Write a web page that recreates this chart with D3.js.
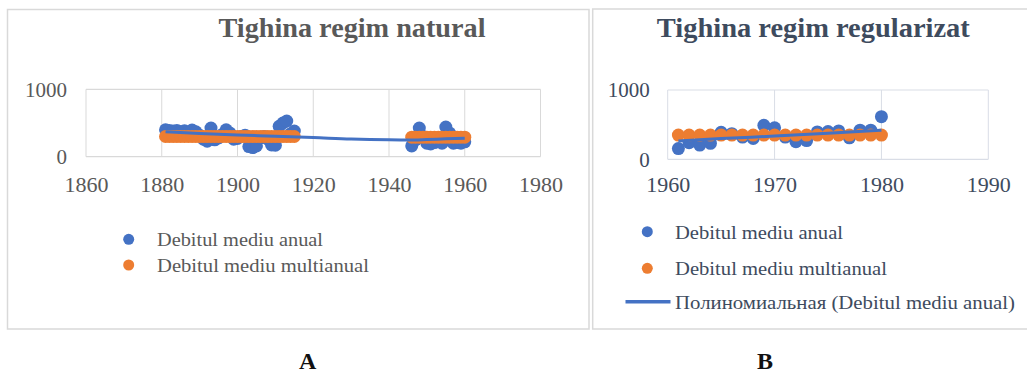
<!DOCTYPE html>
<html><head><meta charset="utf-8">
<script src="https://cdn.jsdelivr.net/npm/d3@7"></script>
<style>
html,body{margin:0;padding:0;background:#fff;}
svg{display:block;}
text{font-family:"Liberation Serif","Times New Roman",serif;}
</style></head>
<body>
<svg id="c" width="1027" height="373"></svg>
<script>
// ---------- Data: panel A (Tighina regim natural) ----------
const natYears = [1881,1882,1883,1884,1885,1886,1887,1888,1889,1890,1891,1892,1893,1894,1895,1896,1897,1898,1899,1900,1901,1902,1903,1904,1905,1906,1907,1908,1909,1910,1911,1912,1913,1914,1915,
                  1946,1947,1948,1949,1950,1951,1952,1953,1954,1955,1956,1957,1958,1959,1960];
const natAnual = [400,390,380,390,370,385,360,395,370,320,260,230,425,250,280,330,400,350,260,270,300,320,150,135,160,280,300,260,175,170,450,500,530,340,380,
                  160,250,425,300,200,190,210,250,200,440,350,200,210,200,220];
const natMultianual = [300,300,300,300,300,300,300,300,300,300,300,300,300,300,300,300,300,300,300,300,300,300,300,300,300,300,300,300,300,300,300,300,300,300,300,
                  290,290,290,290,290,290,290,290,290,290,290,290,290,290,290];
const natTrendYears = [1881,1890,1900,1910,1920,1930,1940,1945,1950,1955,1960];
const natTrendValues = [371,345,322,305,285,262,250,248,255,265,273];
const natXTicks = [1860,1880,1900,1920,1940,1960,1980];
const natYTicks = [0,1000];

// ---------- Data: panel B (Tighina regim regularizat) ----------
const regYears = [1961,1962,1963,1964,1965,1966,1967,1968,1969,1970,1971,1972,1973,1974,1975,1976,1977,1978,1979,1980];
const regAnual = [155,240,205,230,390,370,320,300,490,455,320,255,270,395,400,410,310,420,420,615];
const regMultianual = [350,350,350,350,350,350,350,350,350,350,350,350,350,350,350,350,350,350,350,350];
const regTrendYears = [1961,1965,1970,1975,1980];
const regTrendValues = [265,300,335,375,420];
const regXTicks = [1960,1970,1980,1990];
const regYTicks = [0,1000];

const BLUE = "#4472C4", ORANGE = "#ED7D31";

const svg = d3.select("#c");

function panel(cfg){
  const g = svg.append("g");
  g.append("rect").attr("x",cfg.box[0]).attr("y",cfg.box[1]).attr("width",cfg.box[2]).attr("height",cfg.box[3])
    .attr("fill","#fff").attr("stroke","#d9d9d9").attr("stroke-width",1.5);
  g.append("text").attr("x",cfg.titleX).attr("y",37).attr("text-anchor","middle")
    .attr("font-size",28).attr("font-weight","bold").attr("fill",cfg.titleColor)
    .attr("textLength",cfg.titleLen).attr("lengthAdjust","spacingAndGlyphs").text(cfg.title);

  const x = d3.scaleLinear().domain(cfg.xDomain).range([cfg.plot[0],cfg.plot[1]]);
  const y = d3.scaleLinear().domain([0,1000]).range([cfg.plot[3],cfg.plot[2]]);

  g.append("g").selectAll("line").data(cfg.xTicks).join("line")
    .attr("x1",d=>x(d)).attr("x2",d=>x(d)).attr("y1",y(0)).attr("y2",y(1000))
    .attr("stroke",cfg.gridColor).attr("stroke-width",1);
  g.append("g").selectAll("line").data(cfg.yTicks).join("line")
    .attr("x1",x(cfg.xDomain[0])).attr("x2",x(cfg.xDomain[1])).attr("y1",d=>y(d)).attr("y2",d=>y(d))
    .attr("stroke",cfg.gridColor).attr("stroke-width",1.2);

  const xa = g.append("g").attr("transform",`translate(0,${y(0)})`)
    .call(d3.axisBottom(x).tickValues(cfg.xTicks).tickFormat(d3.format("d")).tickSize(0).tickPadding(cfg.xPad));
  xa.select(".domain").remove();
  xa.selectAll("text").attr("font-size",21).attr("fill",cfg.textColor)
    .attr("font-family","Liberation Serif, serif").attr("textLength",44).attr("lengthAdjust","spacingAndGlyphs");
  const ya = g.append("g").attr("transform",`translate(${x(cfg.xDomain[0])},0)`)
    .call(d3.axisLeft(y).tickValues(cfg.yTicks).tickFormat(d3.format("d")).tickSize(0).tickPadding(cfg.yPad));
  ya.select(".domain").remove();
  ya.selectAll("text").attr("font-size",21).attr("fill",cfg.textColor).attr("font-family","Liberation Serif, serif");

  g.append("g").selectAll("circle").data(cfg.years).join("circle")
    .attr("cx",d=>x(d)).attr("cy",(d,i)=>y(cfg.anual[i])).attr("r",6.5).attr("fill",BLUE);
  g.append("g").selectAll("circle").data(cfg.years).join("circle")
    .attr("cx",d=>x(d)).attr("cy",(d,i)=>y(cfg.multi[i])).attr("r",6.5).attr("fill",ORANGE);
  const line = d3.line().x(d=>x(d[0])).y(d=>y(d[1])).curve(d3.curveMonotoneX);
  g.append("path").datum(cfg.trendYears.map((yr,i)=>[yr,cfg.trendValues[i]]))
    .attr("d",line).attr("fill","none").attr("stroke",BLUE).attr("stroke-width",3);

  const lg = g.append("g");
  cfg.legend.forEach(it=>{
    if(it.type==="dot"){
      lg.append("circle").attr("cx",it.mx).attr("cy",it.my).attr("r",5.5).attr("fill",it.color);
    } else {
      lg.append("line").attr("x1",it.mx-22).attr("x2",it.mx+23).attr("y1",it.my).attr("y2",it.my)
        .attr("stroke",it.color).attr("stroke-width",3.5);
    }
    lg.append("text").attr("x",it.tx).attr("y",it.ty).attr("font-size",19).attr("fill",cfg.textColor)
      .attr("textLength",it.len).attr("lengthAdjust","spacingAndGlyphs").text(it.label);
  });

  g.append("text").attr("x",cfg.letterX).attr("y",369).attr("text-anchor","middle")
    .attr("font-size",24).attr("font-weight","bold").attr("fill","#111").text(cfg.letter);
}

panel({
  box:[7.5,9.5,581.5,319.5],
  title:"Tighina regim natural", titleX:352, titleLen:267, titleColor:"#595959",
  textColor:"#595959", gridColor:"#d9d9d9",
  xDomain:[1860,1980], plot:[86,540.5,89.3,156.7],
  xTicks:natXTicks, yTicks:natYTicks, xPad:20, yPad:19,
  years:natYears, anual:natAnual, multi:natMultianual,
  trendYears:natTrendYears, trendValues:natTrendValues,
  legend:[
    {type:"dot",color:BLUE,mx:128.7,my:239.3,tx:157,ty:246,len:166,label:"Debitul mediu anual"},
    {type:"dot",color:ORANGE,mx:128.7,my:265,tx:157,ty:272,len:212,label:"Debitul mediu multianual"}
  ],
  letter:"A", letterX:307.6
});

panel({
  box:[592.7,9,440,320],
  title:"Tighina regim regularizat", titleX:813.3, titleLen:313, titleColor:"#3E4B5E",
  textColor:"#3E4B5E", gridColor:"#d9dde6",
  xDomain:[1960,1990], plot:[667.7,988.3,90,159.3],
  xTicks:regXTicks, yTicks:regYTicks, xPad:18, yPad:18,
  years:regYears, anual:regAnual, multi:regMultianual,
  trendYears:regTrendYears, trendValues:regTrendValues,
  legend:[
    {type:"dot",color:BLUE,mx:647.3,my:231.7,tx:675,ty:238.5,len:168,label:"Debitul mediu anual"},
    {type:"dot",color:ORANGE,mx:647.3,my:268.3,tx:675,ty:275,len:212,label:"Debitul mediu multianual"},
    {type:"line",color:BLUE,mx:647.5,my:301.7,tx:675,ty:308.5,len:340,label:"Полиномиальная (Debitul mediu anual)"}
  ],
  letter:"B", letterX:765
});
</script>
</body></html>
